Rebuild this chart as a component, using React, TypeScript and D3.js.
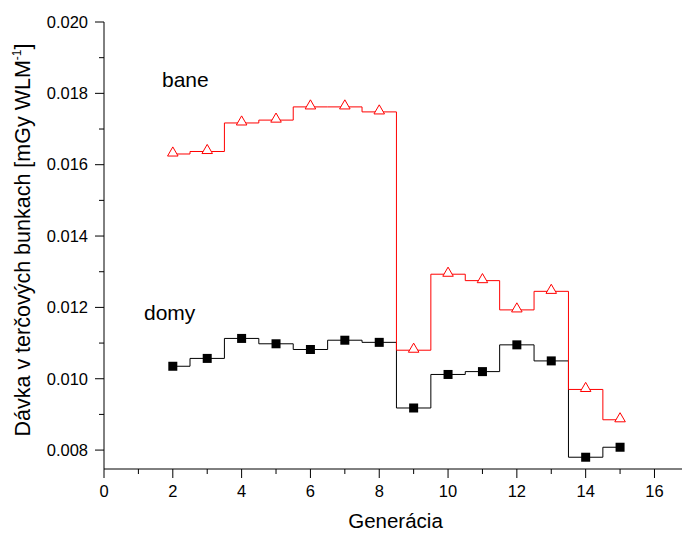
import React from "react";
import * as d3 from "d3";

const generations = [2, 3, 4, 5, 6, 7, 8, 9, 10, 11, 12, 13, 14, 15];
const baneValues = [0.0163, 0.01637, 0.01717, 0.01725, 0.01762, 0.01762, 0.01748, 0.0108, 0.01293, 0.01275, 0.01193, 0.01245, 0.0097, 0.00885];
const domyValues = [0.01035, 0.01057, 0.01113, 0.01098, 0.01082, 0.01108, 0.01102, 0.00918, 0.01012, 0.0102, 0.01095, 0.0105, 0.0078, 0.00808];
const xMajorTicks = [0, 2, 4, 6, 8, 10, 12, 14, 16];
const xMinorTicks = [1, 3, 5, 7, 9, 11, 13, 15];
const yMajorTicks = [0.008, 0.01, 0.012, 0.014, 0.016, 0.018, 0.02];
const yMinorTicks = [0.009, 0.011, 0.013, 0.015, 0.017, 0.019];

const W = 683;
const H = 533;
const left = 104;
const right = 682;
const top = 22;
const bottom = 469;
const FONT = "'Liberation Sans', Arial, sans-serif";

export default function App() {
  const x = d3.scaleLinear().domain([0, 16.8]).range([left, right]);
  const y = d3.scaleLinear().domain([0.02 - 12.53 * 0.001, 0.02]).range([bottom, top]);
  const line = d3
    .line<[number, number]>()
    .x((d) => x(d[0]))
    .y((d) => y(d[1]))
    .curve(d3.curveStep);
  const banePts: [number, number][] = generations.map((g, i) => [g, baneValues[i]]);
  const domyPts: [number, number][] = generations.map((g, i) => [g, domyValues[i]]);
  const tri = d3.symbol().type(d3.symbolTriangle).size(48)();

  return (
    <svg width={W} height={H} style={{ position: "absolute", left: 0, top: 0, background: "#fff" }}>
      <rect x={0} y={0} width={W} height={H} fill="#fff" />
      {/* axes */}
      <line x1={left} x2={left} y1={top} y2={bottom} stroke="#000" strokeWidth={1} />
      <line x1={left} x2={right} y1={bottom} y2={bottom} stroke="#000" strokeWidth={1} />
      {yMajorTicks.map((t) => (
        <g key={"ym" + t}>
          <line x1={left - 9} x2={left} y1={y(t)} y2={y(t)} stroke="#000" />
          <text x={left - 16} y={y(t)} dy="0.35em" textAnchor="end" fontFamily={FONT} fontSize={16.5}>
            {t.toFixed(3)}
          </text>
        </g>
      ))}
      {yMinorTicks.map((t) => (
        <line key={"yn" + t} x1={left - 5} x2={left} y1={y(t)} y2={y(t)} stroke="#000" />
      ))}
      {xMajorTicks.map((t) => (
        <g key={"xm" + t}>
          <line x1={x(t)} x2={x(t)} y1={bottom} y2={bottom + 9} stroke="#000" />
          <text x={x(t)} y={bottom + 28} textAnchor="middle" fontFamily={FONT} fontSize={16.5}>
            {t}
          </text>
        </g>
      ))}
      {xMinorTicks.map((t) => (
        <line key={"xn" + t} x1={x(t)} x2={x(t)} y1={bottom} y2={bottom + 5} stroke="#000" />
      ))}
      {/* series */}
      <path d={line(domyPts) || ""} fill="none" stroke="#000" strokeWidth={1} />
      <path d={line(banePts) || ""} fill="none" stroke="#ff0000" strokeWidth={1} />
      {domyPts.map((p, i) => (
        <rect key={"d" + i} x={x(p[0]) - 4.5} y={y(p[1]) - 4.5} width={9} height={9} fill="#000" />
      ))}
      {banePts.map((p, i) => (
        <path
          key={"b" + i}
          d={tri || ""}
          transform={`translate(${x(p[0])},${y(p[1]) - 1})`}
          fill="#fff"
          stroke="#ff0000"
          strokeWidth={1}
        />
      ))}
      {/* labels */}
      <text x={162} y={87} fontFamily={FONT} fontSize={21}>bane</text>
      <text x={144} y={320} fontFamily={FONT} fontSize={21}>domy</text>
      <text x={395.5} y={528} textAnchor="middle" fontFamily={FONT} fontSize={20.5}>Generácia</text>
      <text
        transform={`translate(30,240) rotate(-90)`}
        textAnchor="middle"
        fontFamily={FONT}
        fontSize={21.5}
      >
        Dávka v terčových bunkach [mGy WLM
        <tspan fontSize={12} dy={-9}>-1</tspan>
        <tspan dy={9}>]</tspan>
      </text>
    </svg>
  );
}
